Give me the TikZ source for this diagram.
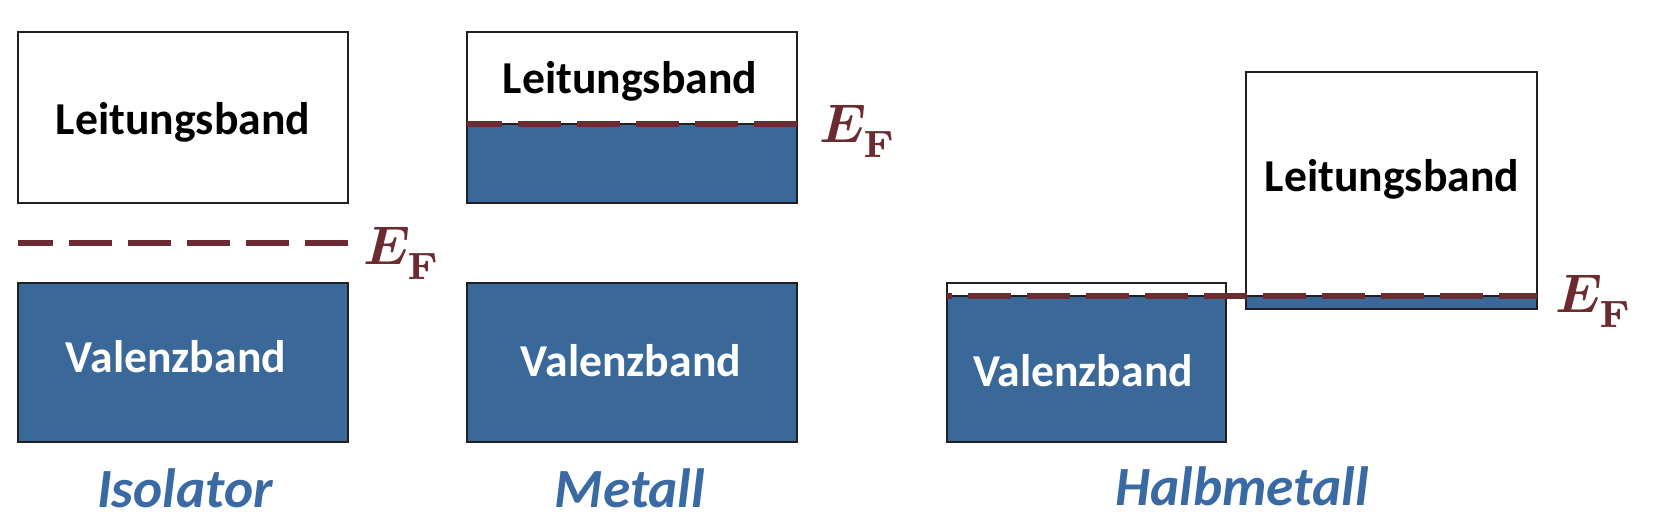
\documentclass[tikz,border=0pt]{standalone}
\usepackage[no-math]{fontspec}
\usepackage{amsmath,bm}
\setmainfont{Carlito}
\usetikzlibrary{positioning}

\definecolor{bandblue}{HTML}{3A6899}
\definecolor{labelblue}{HTML}{3A6AA3}
\definecolor{fermired}{HTML}{6B2B30}
\definecolor{edgegray}{HTML}{231F20}

\newcommand{\fermiE}{$\bm{E}_{\raisebox{-1.2pt}{$\scriptstyle\mathbf{F}$}}$}

\tikzset{
	band/.style={draw=edgegray,line width=1.6pt},
	filled/.style={band,fill=bandblue},
	fermi/.style={draw=fermired,line width=3.2pt,dash pattern=on 0.86cm off 0.32cm},
	bandtext/.style={font=\fontsize{26}{31}\selectfont\bfseries,inner sep=0pt},
	fermilabel/.style={anchor=base west,inner sep=0pt,text=fermired,scale=3.1},
	kind/.style={font=\fontsize{31.5}{36}\selectfont\bfseries\itshape,text=labelblue,inner sep=0pt}
}

\begin{document}
\begin{tikzpicture}[x=0.02cm,y=-0.02cm]
	\useasboundingbox (0,0) rectangle (1654,519);

	% Isolator
	\draw[band] (18,32) rectangle (348,203);
	\draw[filled] (18,283) rectangle (348,442);
	\draw[fermi,dash phase=0.16cm] (18,243) -- (348,243);
	\draw (183,122) node [bandtext] (iso-cb) {Leitungsband};
	\draw (176,357) node [bandtext,text=white] (iso-vb) {Valenzband};
	\draw (362,265) node [fermilabel] (iso-ef) {\fermiE};
	\draw (185,488) node [kind] (iso) {Isolator};

	% Metall
	\draw[filled] (467,124) rectangle (797,203);
	\draw[band] (467,32) rectangle (797,203);
	\draw[filled] (467,283) rectangle (797,442);
	\draw[fermi,dash phase=0.16cm] (467,124) -- (797,124);
	\draw (630,81) node [bandtext] (met-cb) {Leitungsband};
	\draw (631,361) node [bandtext,text=white] (met-vb) {Valenzband};
	\draw (818,143) node [fermilabel] (met-ef) {\fermiE};
	\draw (630,488) node [kind] (met) {Metall};

	% Halbmetall
	\draw[filled] (947,296) rectangle (1226,442);
	\draw[band] (947,283) rectangle (1226,442);
	\draw[filled] (1246,296) rectangle (1537,309);
	\draw[band] (1246,72) rectangle (1537,309);
	\draw[fermi,dash phase=0.76cm] (947,296) -- (1537,296);
	\draw (1392,179) node [bandtext] (hm-cb) {Leitungsband};
	\draw (1083,371) node [bandtext,text=white] (hm-vb) {Valenzband};
	\draw (1554,313) node [fermilabel] (hm-ef) {\fermiE};
	\draw (1242,486) node [kind] (hm) {Halbmetall};
\end{tikzpicture}
\end{document}
